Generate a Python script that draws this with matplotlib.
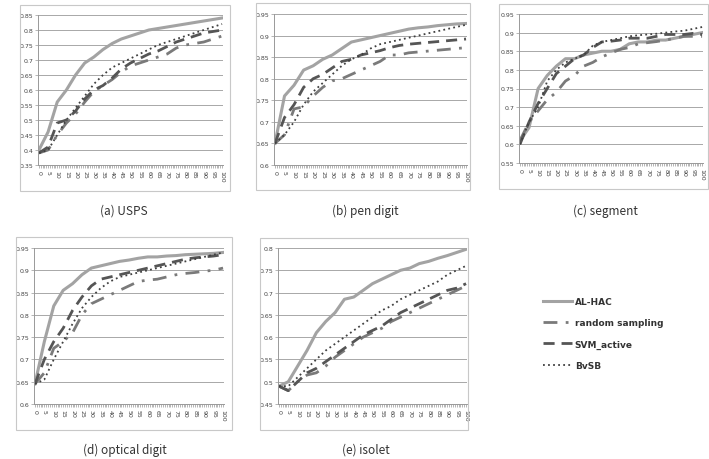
import numpy as np
import matplotlib
matplotlib.use("Agg")
import matplotlib.pyplot as plt
from matplotlib.patches import Rectangle
from matplotlib.ticker import FuncFormatter

x = list(range(0, 101, 5))
series_names = ['AL-HAC', 'random sampling', 'SVM_active', 'BvSB']

usps_alhac  = [0.40, 0.46, 0.56, 0.60, 0.65, 0.69, 0.71, 0.735, 0.755, 0.77, 0.78, 0.79, 0.80, 0.805, 0.81, 0.815, 0.82, 0.825, 0.83, 0.835, 0.84]
usps_random = [0.39, 0.40, 0.45, 0.49, 0.52, 0.56, 0.595, 0.615, 0.635, 0.66, 0.68, 0.69, 0.70, 0.71, 0.72, 0.74, 0.75, 0.755, 0.76, 0.77, 0.78]
usps_svm    = [0.39, 0.41, 0.49, 0.50, 0.53, 0.57, 0.60, 0.615, 0.64, 0.67, 0.69, 0.705, 0.72, 0.73, 0.745, 0.76, 0.77, 0.78, 0.79, 0.795, 0.80]
usps_bvsb   = [0.39, 0.40, 0.45, 0.50, 0.54, 0.58, 0.62, 0.65, 0.675, 0.69, 0.705, 0.72, 0.735, 0.75, 0.76, 0.77, 0.78, 0.79, 0.80, 0.81, 0.82]

pen_alhac  = [0.65, 0.76, 0.785, 0.82, 0.83, 0.845, 0.855, 0.87, 0.885, 0.89, 0.895, 0.90, 0.905, 0.91, 0.915, 0.918, 0.92, 0.923, 0.925, 0.927, 0.928]
pen_random = [0.65, 0.67, 0.73, 0.735, 0.76, 0.78, 0.795, 0.80, 0.81, 0.82, 0.83, 0.84, 0.855, 0.855, 0.86, 0.862, 0.864, 0.866, 0.868, 0.87, 0.872]
pen_svm    = [0.65, 0.71, 0.74, 0.78, 0.80, 0.81, 0.825, 0.84, 0.845, 0.855, 0.86, 0.865, 0.872, 0.877, 0.88, 0.882, 0.884, 0.886, 0.888, 0.89, 0.892]
pen_bvsb   = [0.65, 0.67, 0.70, 0.74, 0.77, 0.79, 0.81, 0.83, 0.845, 0.855, 0.87, 0.88, 0.885, 0.89, 0.895, 0.90, 0.905, 0.91, 0.915, 0.92, 0.925]

seg_alhac  = [0.61, 0.645, 0.75, 0.785, 0.81, 0.83, 0.83, 0.84, 0.845, 0.85, 0.85, 0.855, 0.87, 0.875, 0.875, 0.88, 0.88, 0.885, 0.89, 0.895, 0.90]
seg_random = [0.61, 0.66, 0.69, 0.72, 0.74, 0.77, 0.785, 0.81, 0.82, 0.835, 0.845, 0.855, 0.86, 0.87, 0.873, 0.876, 0.88, 0.885, 0.89, 0.89, 0.89]
seg_svm    = [0.60, 0.66, 0.71, 0.75, 0.79, 0.81, 0.83, 0.84, 0.86, 0.875, 0.877, 0.88, 0.885, 0.885, 0.885, 0.89, 0.895, 0.895, 0.895, 0.898, 0.895]
seg_bvsb   = [0.60, 0.66, 0.70, 0.77, 0.80, 0.82, 0.83, 0.84, 0.865, 0.875, 0.88, 0.885, 0.89, 0.893, 0.895, 0.897, 0.90, 0.903, 0.905, 0.91, 0.915]

opt_alhac  = [0.645, 0.74, 0.82, 0.855, 0.87, 0.89, 0.905, 0.91, 0.915, 0.92, 0.923, 0.927, 0.93, 0.93, 0.932, 0.933, 0.935, 0.936, 0.937, 0.938, 0.94]
opt_random = [0.645, 0.67, 0.725, 0.74, 0.76, 0.80, 0.825, 0.835, 0.845, 0.855, 0.865, 0.875, 0.878, 0.88, 0.885, 0.89, 0.893, 0.895, 0.898, 0.90, 0.905]
opt_svm    = [0.645, 0.70, 0.74, 0.77, 0.81, 0.84, 0.865, 0.88, 0.885, 0.89, 0.895, 0.90, 0.905, 0.91, 0.915, 0.92, 0.925, 0.928, 0.93, 0.932, 0.935]
opt_bvsb   = [0.645, 0.655, 0.70, 0.74, 0.78, 0.815, 0.84, 0.86, 0.875, 0.885, 0.89, 0.895, 0.90, 0.905, 0.91, 0.915, 0.92, 0.925, 0.93, 0.935, 0.94]

iso_alhac  = [0.49, 0.50, 0.535, 0.57, 0.61, 0.635, 0.655, 0.685, 0.69, 0.705, 0.72, 0.73, 0.74, 0.75, 0.755, 0.765, 0.77, 0.777, 0.783, 0.79, 0.797]
iso_random = [0.49, 0.48, 0.50, 0.515, 0.52, 0.535, 0.555, 0.57, 0.585, 0.60, 0.61, 0.62, 0.635, 0.645, 0.655, 0.665, 0.675, 0.685, 0.695, 0.705, 0.715]
iso_svm    = [0.49, 0.48, 0.50, 0.52, 0.53, 0.545, 0.56, 0.575, 0.59, 0.605, 0.615, 0.625, 0.64, 0.655, 0.665, 0.675, 0.685, 0.695, 0.705, 0.71, 0.72]
iso_bvsb   = [0.49, 0.49, 0.51, 0.53, 0.55, 0.57, 0.585, 0.60, 0.615, 0.63, 0.645, 0.66, 0.67, 0.685, 0.695, 0.705, 0.715, 0.725, 0.74, 0.75, 0.76]

captions = ['(a) USPS', '(b) pen digit', '(c) segment', '(d) optical digit', '(e) isolet']
ylims = [(0.35, 0.85), (0.6, 0.95), (0.55, 0.95), (0.6, 0.95), (0.45, 0.8)]
panel_data = [
    (usps_alhac, usps_random, usps_svm, usps_bvsb),
    (pen_alhac, pen_random, pen_svm, pen_bvsb),
    (seg_alhac, seg_random, seg_svm, seg_bvsb),
    (opt_alhac, opt_random, opt_svm, opt_bvsb),
    (iso_alhac, iso_random, iso_svm, iso_bvsb),
]

W, H = 709, 460
# axes (left, right, top, bottom), chart box (left, top, right, bottom), caption (x, y) in pixels
axes_px = [(38, 223, 16, 166), (274, 467, 15, 166), (519, 703, 15, 164), (34, 224, 249, 405), (278, 467, 249, 405)]
box_px = [(20, 6, 230, 192), (256, 4, 470, 191), (499, 5, 708, 190), (16, 238, 232, 431), (260, 239, 468, 431)]
cap_px = [(124, 211), (365, 211), (605, 211), (125, 450), (366, 450)]

styles = [
    dict(color='#a3a3a3', lw=2.2, ls='-'),
    dict(color='#7a7a7a', lw=2.0, ls=(0, (5, 3, 1, 3))),
    dict(color='#555555', lw=2.0, ls=(0, (4, 2.5))),
    dict(color='#404040', lw=1.3, ls=(0, (1, 1.8))),
]

fig = plt.figure(figsize=(W / 100, H / 100), dpi=100)

fmt = FuncFormatter(lambda v, p: '{:g}'.format(round(v, 2)))

handles = []
for i in range(5):
    bl, bt, br, bb = box_px[i]
    fig.patches.append(Rectangle((bl / W, 1 - bb / H), (br - bl) / W, (bb - bt) / H,
                                 transform=fig.transFigure, fill=False, ec='#c8c8c8', lw=0.8))
    l, r, t, b = axes_px[i]
    ax = fig.add_axes([l / W, 1 - b / H, (r - l) / W, (b - t) / H])
    for vals, st in zip(panel_data[i], styles):
        ln, = ax.plot(x, vals, **st)
        if i == 0:
            handles.append(ln)
    lo, hi = ylims[i]
    ax.set_ylim(lo, hi)
    ax.set_yticks(np.arange(lo, hi + 0.001, 0.05))
    ax.yaxis.set_major_formatter(fmt)
    ax.set_xlim(-0.5, 100.5)
    ax.set_xticks(x)
    ax.set_xticks(np.arange(0, 101, 1), minor=True)
    ax.set_xticklabels([str(v) for v in x], rotation=270)
    ax.grid(axis='y', color='#a8a8a8', lw=0.7)
    ax.set_axisbelow(True)
    for s in ['top', 'right']:
        ax.spines[s].set_visible(False)
    for s in ['left', 'bottom']:
        ax.spines[s].set_color('#999999')
        ax.spines[s].set_linewidth(0.7)
    ax.tick_params(axis='both', which='both', direction='out', length=2, width=0.5,
                   color='#999999', labelsize=4.5, labelcolor='#444444', pad=1.5)
    ax.tick_params(axis='x', which='minor', length=2)
    fig.text(cap_px[i][0] / W, 1 - cap_px[i][1] / H, captions[i], ha='center', va='center',
             fontsize=8.5, color='#333333', fontweight='light',
             family=['Noto Sans CJK KR', 'DejaVu Sans'])

fig.legend(handles, series_names, loc='upper left', bbox_to_anchor=(535 / W, 1 - 290 / H),
           frameon=False, handlelength=3.2, handletextpad=0.3, labelspacing=1.35,
           prop=dict(size=6.5, weight='bold'), labelcolor='#333333')

fig.savefig('out.png', dpi=100)
